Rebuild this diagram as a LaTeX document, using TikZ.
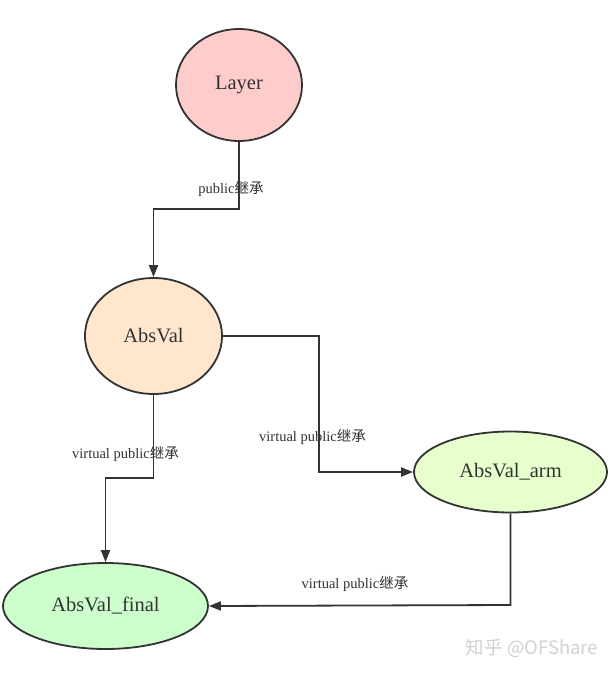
\documentclass[tikz,border=0pt]{standalone}
\usepackage{fontspec}
\setmainfont{Liberation Serif}
\newfontfamily\cjk{Noto Sans CJK SC}
\usetikzlibrary{shapes.geometric,arrows.meta}
\definecolor{strokec}{HTML}{333333}
\definecolor{cLayer}{HTML}{FFCCCC}
\definecolor{cAbs}{HTML}{FFE6CC}
\definecolor{cArm}{HTML}{E6FFCC}
\definecolor{cFinal}{HTML}{CCFFCC}
\tikzset{
  cls/.style={ellipse, draw=strokec, line width=1.8pt, inner sep=0pt, text=strokec,
    font=\rmfamily\fontsize{20.5}{24}\selectfont},
  arr/.style={draw=strokec, line width=1.8pt, -{Triangle[length=12pt,width=9pt]}},
  lbl/.style={text=strokec, inner sep=0pt, font=\rmfamily\fontsize{14.5}{17}\selectfont},
}
\begin{document}
\begin{tikzpicture}[x=1pt,y=-1pt]
\useasboundingbox (0,0) rectangle (615,675);
\node[cls, fill=cLayer, minimum width=126pt, minimum height=112pt] (layer) at (239,85) {Layer};
\node[cls, fill=cAbs, minimum width=137pt, minimum height=116pt] (absval) at (153.5,336) {AbsVal};
\node[cls, fill=cArm, minimum width=193pt, minimum height=81pt] (arm) at (510.5,472) {AbsVal\_arm};
\node[cls, fill=cFinal, minimum width=205pt, minimum height=86pt] (final) at (105.5,606) {AbsVal\_final};
\coordinate (b1) at (239,209);
\coordinate (b2) at (319,336);
\coordinate (b3) at (153.5,478);
\coordinate (b4) at (510.5,605);
\draw[arr] (layer.south) -- (b1) -| (absval.north);
\draw[arr] (absval.east) -- (b2) |- (arm.west);
\draw[arr] (absval.south) -- (b3) -| (final.north);
\draw[arr] (arm.south) -- (b4) -- (final.east);
\node[lbl] (l1) at (231,189) {public{\cjk 继承}};
\node[lbl] (l2) at (312.5,437) {virtual public{\cjk 继承}};
\node[lbl] (l3) at (125.5,454) {virtual public{\cjk 继承}};
\node[lbl] (l4) at (355,584) {virtual public{\cjk 继承}};
\node[text=black!18, inner sep=0pt, font=\cjk\fontsize{18.5}{21}\selectfont] (wm) at (532,648) {知乎 @OFShare};
\end{tikzpicture}
\end{document}
